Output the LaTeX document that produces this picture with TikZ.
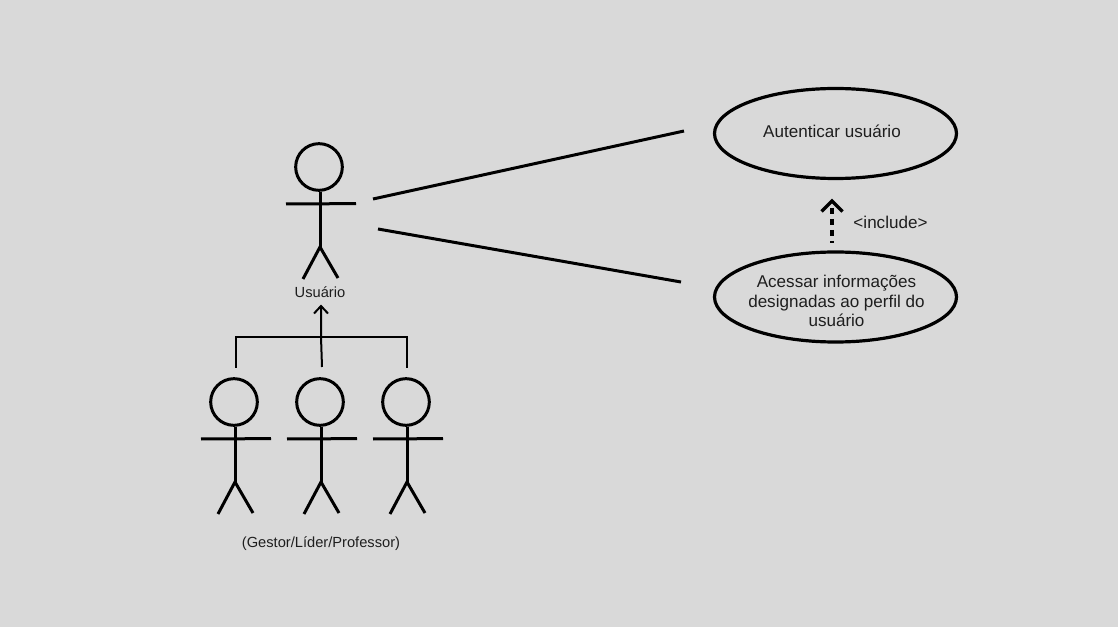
\documentclass[tikz,border=0pt]{standalone}
\usepackage{fontspec}
\setmainfont{Liberation Sans}
\usetikzlibrary{shapes.geometric}
\definecolor{bgc}{HTML}{D9D9D9}
\definecolor{inkc}{HTML}{000000}
\definecolor{txtc}{HTML}{1E1E1E}
\tikzset{
  x=0.75pt,y=-0.75pt,
  limb/.style={draw=inkc,line width=2.25pt},
  thin limb/.style={draw=inkc,line width=1.5pt},
  head/.style={circle,draw=inkc,line width=2.25pt,minimum size=35pt,inner sep=0pt},
  usecase/.style={ellipse,draw=inkc,line width=2.4pt,minimum width=181.5pt,minimum height=67.5pt,inner sep=0pt},
  ltext/.style={text=txtc,font=\fontsize{12.8pt}{14.6pt}\selectfont,align=center,inner sep=0pt},
  stext/.style={text=txtc,font=\fontsize{11pt}{13pt}\selectfont,align=center,inner sep=0pt},
  actor/.pic={
    \node[head] (-head) at (0,0) {};
    \draw[limb] (-33,37) -- (37,36.6);
    \draw[limb] (-head.south) ++(1,0) coordinate (-neck) -- (1,80) coordinate (-hip);
    \draw[limb] (-16,112) -- (-hip) -- (19,111);
  }
}
\begin{document}
\begin{tikzpicture}
\useasboundingbox[fill=bgc] (0,0) rectangle (1118,627);
% actors
\pic (main) at (319,167) {actor};
\pic (a1) at (234,402) {actor};
\pic (a2) at (320,402) {actor};
\pic (a3) at (406,402) {actor};
% labels
\node[stext] (usuario) at (320,292) {Usuário};
\node[stext] (roles) at (321,544) {(Gestor/Líder/Professor)};
% use cases
\node[usecase] (auth) at (835.5,133.5) {};
\node[ltext] (authtext) at (832,131.5) {Autenticar usuário};
\node[usecase] (access) at (835.5,297) {};
\node[ltext] (accesstext) at (836.5,301) {Acessar informações\\designadas ao perfil do\\usuário};
\node[ltext] (incl) at (890.5,222.5) {<include>};
% association lines
\coordinate (s1) at (373,199);
\coordinate (e1) at (684,131);
\coordinate (s2) at (378,229);
\coordinate (e2) at (681,282);
\draw[limb] (s1) -- (e1);
\draw[limb] (s2) -- (e2);
% include arrow
\coordinate (incbase) at (832,243.5);
\coordinate (inctip) at (832,201);
\draw[limb,line width=2.7pt,dash pattern=on 4.5pt off 3.75pt] (832,208) -- (incbase);
\draw[limb,line width=2.5pt] (821.5,211.5) -- (inctip) -- (842.5,211.5);
% generalisation tree
\coordinate (t1) at (236,368);
\coordinate (t3) at (407,368);
\coordinate (t2) at (322,367);
\coordinate (tj) at (321,337);
\coordinate (ttip) at (321,306);
\draw[thin limb] (t1) -- (236,337) -- (407,337) -- (t3);
\draw[thin limb] (t2) -- (tj) -- (ttip);
\draw[thin limb] (314,313.5) -- (ttip) -- (328,313.5);
\end{tikzpicture}
\end{document}
